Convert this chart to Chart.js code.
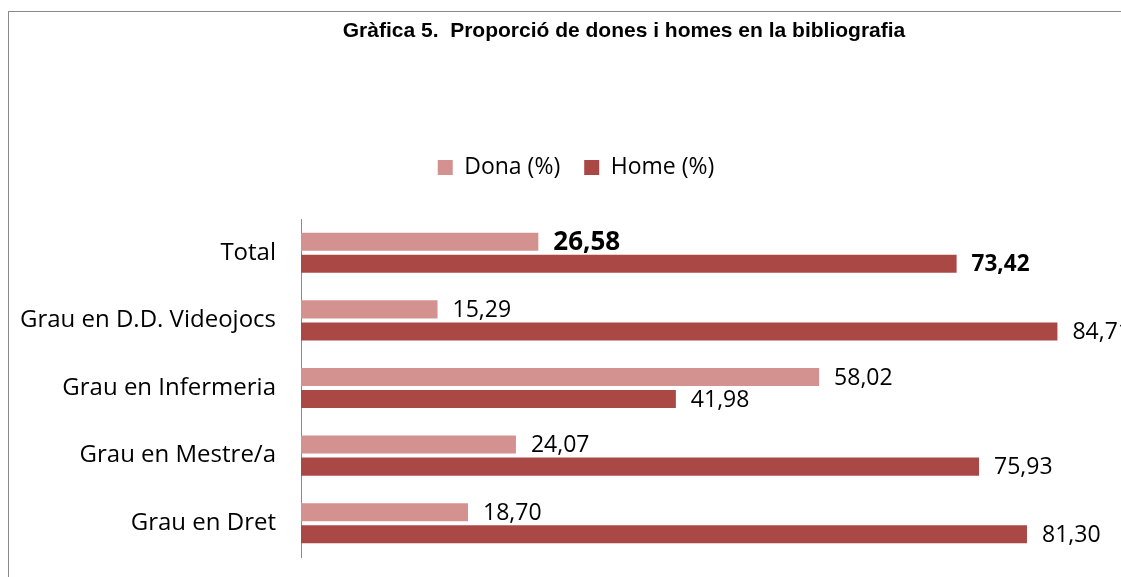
<!DOCTYPE html>
<html>
<head>
<meta charset="utf-8">
<script src="https://cdn.jsdelivr.net/npm/chart.js@4.4.1/dist/chart.umd.min.js"></script>
<style>
  html, body { margin: 0; padding: 0; background: #fff; overflow: hidden; }
  #wrap { position: relative; width: 1121px; height: 577px; overflow: hidden; }
  #frame { position: absolute; left: 8px; top: 11px; width: 1400px; height: 900px; border: 1px solid #8a8a8a; }
  #chart { position: absolute; left: 0; top: 0; }
</style>
</head>
<body>
<div id="wrap">
  <div id="frame"></div>
  <canvas id="chart" width="1152" height="577"></canvas>
</div>
<script>
// chart data
const titleText = 'Gràfica 5.  Proporció de dones i homes en la bibliografia';
const categories = ['Total', 'Grau en D.D. Videojocs', 'Grau en Infermeria', 'Grau en Mestre/a', 'Grau en Dret'];
const donaValues = [26.58, 15.29, 58.02, 24.07, 18.70];
const homeValues = [73.42, 84.71, 41.98, 75.93, 81.30];
const seriesNames = ['Dona (%)', 'Home (%)'];

const DONA_COLOR = '#d39290';
const HOME_COLOR = '#aa4846';
const LABEL_FONT = '"Open Sans"';

// Title drawn by hand so it can sit off the legend's centre like the original
const titlePlugin = {
  id: 'sheetTitle',
  afterInit(chart) {
    // leave an empty band under the legend, as in the sheet
    const legend = chart.legend;
    const fit = legend.fit;
    legend.fit = function () {
      fit.call(this);
      this.height += 30;
    };
  },
  afterDraw(chart) {
    const ctx = chart.ctx;
    ctx.save();
    ctx.font = 'bold 21px "Liberation Sans"';
    ctx.fillStyle = '#000';
    ctx.textAlign = 'center';
    ctx.textBaseline = 'alphabetic';
    ctx.fillText(titleText, 624, 37);
    ctx.restore();
  }
};

// Value labels to the right of each bar, comma decimals
const valueLabels = {
  id: 'valueLabels',
  afterDatasetsDraw(chart) {
    const ctx = chart.ctx;
    ctx.save();
    ctx.fillStyle = '#000';
    ctx.textAlign = 'left';
    ctx.textBaseline = 'middle';
    chart.data.datasets.forEach((ds, di) => {
      chart.getDatasetMeta(di).data.forEach((bar, i) => {
        const isTotal = i === 0;
        let font = '23px ' + LABEL_FONT;
        if (isTotal) font = 'bold ' + (di === 0 ? 26 : 22.5) + 'px ' + LABEL_FONT;
        ctx.font = font;
        const txt = ds.data[i].toFixed(2).replace('.', ',');
        ctx.fillText(txt, bar.x + 15, bar.y + 1);
      });
    });
    ctx.restore();
  }
};

new Chart(document.getElementById('chart'), {
  type: 'bar',
  data: {
    labels: categories,
    datasets: [
      { label: seriesNames[0], data: donaValues, backgroundColor: DONA_COLOR },
      { label: seriesNames[1], data: homeValues, backgroundColor: HOME_COLOR }
    ]
  },
  options: {
    indexAxis: 'y',
    responsive: false,
    animation: false,
    categoryPercentage: 0.652,
    barPercentage: 0.818,
    layout: { padding: { top: 132, right: 0, bottom: 20, left: 0 } },
    plugins: {
      title: { display: false },
      tooltip: { enabled: false },
      legend: {
        display: true,
        position: 'top',
        labels: {
          boxWidth: 15,
          boxHeight: 15,
          padding: 24,
          color: '#000',
          font: { family: LABEL_FONT, size: 23 }
        }
      }
    },
    scales: {
      x: {
        display: false,
        min: 0,
        max: 95.3
      },
      y: {
        afterFit(scale) {
          scale.width = 301;
          // tick padding should not eat into the plot height
          scale.paddingTop = 0;
          scale.paddingBottom = 0;
        },
        grid: { display: false, drawTicks: false },
        border: { display: true, color: '#8a8a8a', width: 1 },
        ticks: {
          color: '#000',
          padding: 25,
          font: { family: LABEL_FONT, size: 24 }
        }
      }
    }
  },
  plugins: [titlePlugin, valueLabels]
});
</script>
</body>
</html>
